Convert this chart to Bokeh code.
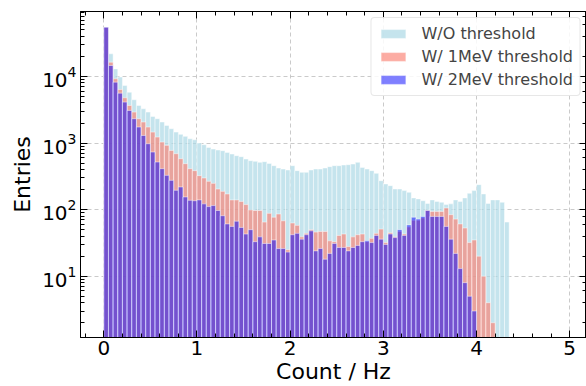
from bokeh.plotting import figure
from bokeh.models import (Range1d, LogAxis, LinearAxis, SingleIntervalTicker, LogTicker,
                          Legend, LegendItem, Label, ColumnDataSource)
from bokeh.embed import file_html
from bokeh.resources import INLINE

# ---------------- data (histogram counts, bins of width 0.05 starting at 0) ----------------
bin_width = 0.05
series_names = ["W/O threshold", "W/ 1MeV threshold", "W/ 2MeV threshold"]

counts_wo = [55000, 21900, 13000, 9800, 7300, 5800, 4470, 3670, 3270, 2920,
             2510, 2320, 2070, 1840, 1640, 1460, 1350, 1260, 1160, 1120,
             1000, 944, 860, 813, 785, 767, 724, 684, 646, 624,
             575, 543, 531, 513, 525, 495, 457, 422, 407, 394,
             457, 385, 363, 363, 394, 407, 407, 422, 442, 457,
             457, 468, 473, 484, 513, 431, 407, 385, 351, 272,
             243, 229, 204, 204, 193, 182, 150, 145, 136, 124,
             140, 133, 129, 119, 122, 140, 133, 150, 176, 193,
             237, 172, 124, 140, 140, 129, 65]

counts_1mev = [55000, 16400, 9230, 6380, 4790, 3670, 2920, 2320, 2070, 1740,
               1460, 1230, 1035, 923, 776, 692, 582, 490, 412, 385,
               324, 299, 266, 248, 204, 188, 172, 140, 140, 133,
               119, 99, 97, 97, 65, 88, 77, 86, 68, 25,
               63, 58, 39, 44, 50, 46, 47, 47, 34, 33,
               41, 43, 28, 39, 42, 43, 33, 37, 44, 51,
               32, 45, 39, 47, 43, 55, 69, 69, 75, 98,
               94, 94, 94, 106, 84, 72, 61, 53, 32, 35,
               20, 10, 4, 2]

counts_2mev = [55000, 14600, 8220, 5620, 4120, 3090, 2320, 1740, 1300, 977,
               733, 519, 412, 327, 275, 195, 219, 155, 138, 136,
               140, 122, 111, 115, 97, 81, 61, 56, 67, 54,
               43, 50, 33, 39, 31, 31, 35, 26, 26, 23,
               42, 44, 36, 42, 48, 24, 26, 18, 22, 31,
               27, 27, 24, 27, 29, 33, 34, 32, 41, 36,
               30, 43, 38, 50, 41, 59, 77, 72, 79, 97,
               79, 79, 79, 56, 36, 22, 13, 8, 5, 3]

x_ticks_interval = 1

# ---------------- figure ----------------
FONT = "DejaVu Sans"

p = figure(width=586, height=386, output_backend="svg", toolbar_location=None,
           x_range=Range1d(-0.25, 5.18), y_range=Range1d(1.2, 94600),
           y_axis_type="log",
           min_border_left=80, min_border_right=0, min_border_top=11, min_border_bottom=49)
p.outline_line_color = "black"
p.outline_line_width = 1
p.background_fill_color = "white"
p.border_fill_color = "white"

def centers(counts):
    return [(i + 0.5) * bin_width for i in range(len(counts))]

styles = [
    dict(color="#ADD8E6", alpha=0.7),
    dict(color="#FA8072", alpha=0.65),
    dict(color="#0000FF", alpha=0.5),
]

renderers = []
for counts, st in zip([counts_wo, counts_1mev, counts_2mev], styles):
    src = ColumnDataSource(dict(x=centers(counts), top=counts))
    r = p.vbar(x="x", top="top", bottom=0.01, width=bin_width, source=src,
               fill_color=st["color"], fill_alpha=st["alpha"],
               line_color="white", line_width=0.6, line_alpha=0.8)
    renderers.append(r)

# grid
for g in (p.xgrid, p.ygrid):
    g.grid_line_color = "#bdbdbd"
    g.grid_line_dash = "4 3"
    g.grid_line_width = 0.8
p.ygrid.minor_grid_line_color = None

def style_axis(ax, labels=True):
    ax.axis_line_color = "black"
    ax.axis_line_width = 1
    ax.major_tick_in = 7
    ax.major_tick_out = 0
    ax.minor_tick_in = 4
    ax.minor_tick_out = 0
    ax.major_tick_line_color = "black"
    ax.minor_tick_line_color = "black"
    ax.major_label_text_font = FONT
    ax.axis_label_text_font = FONT
    ax.axis_label_text_font_style = "normal"
    ax.axis_label_text_color = "black"
    if labels:
        ax.major_label_text_color = "black"
        ax.major_label_text_font_size = "20px"
        ax.axis_label_text_font_size = "22px"
    else:
        ax.major_label_text_font_size = "1px"
        ax.major_label_text_color = None
        ax.major_label_standoff = 0

xaxis = p.xaxis[0]
xaxis.ticker = SingleIntervalTicker(interval=x_ticks_interval, num_minor_ticks=5)
xaxis.axis_label = "Count / Hz"
style_axis(xaxis)
xaxis.major_label_standoff = 3
xaxis.axis_label_standoff = 1

yaxis = p.yaxis[0]
yaxis.axis_label = "Entries"
style_axis(yaxis)
yaxis.major_label_standoff = 4
yaxis.axis_label_standoff = 4

top_axis = LinearAxis(ticker=SingleIntervalTicker(interval=x_ticks_interval, num_minor_ticks=5))
style_axis(top_axis, labels=False)
p.add_layout(top_axis, "above")

right_axis = LogAxis(ticker=LogTicker())
style_axis(right_axis, labels=False)
p.add_layout(right_axis, "right")

legend = Legend(items=[LegendItem(label=n, renderers=[r]) for n, r in zip(series_names, renderers)],
                location="top_right")
legend.label_text_font = FONT
legend.label_text_font_size = "16px"
legend.glyph_width = 31
legend.glyph_height = 11
legend.label_standoff = 13
legend.label_height = 19
legend.spacing = 4
legend.padding = 6
legend.margin = 6
legend.border_line_color = "#d0d0d0"
legend.border_line_width = 1
legend.border_radius = 4
legend.background_fill_alpha = 0.85
p.add_layout(legend)

offset = Label(x=5.02, y=0.41, text="1e", text_font=FONT, text_font_size="9px",
               text_baseline="middle", text_color="black")
p.add_layout(offset)

open("out.html", "w").write(file_html(p, INLINE))
